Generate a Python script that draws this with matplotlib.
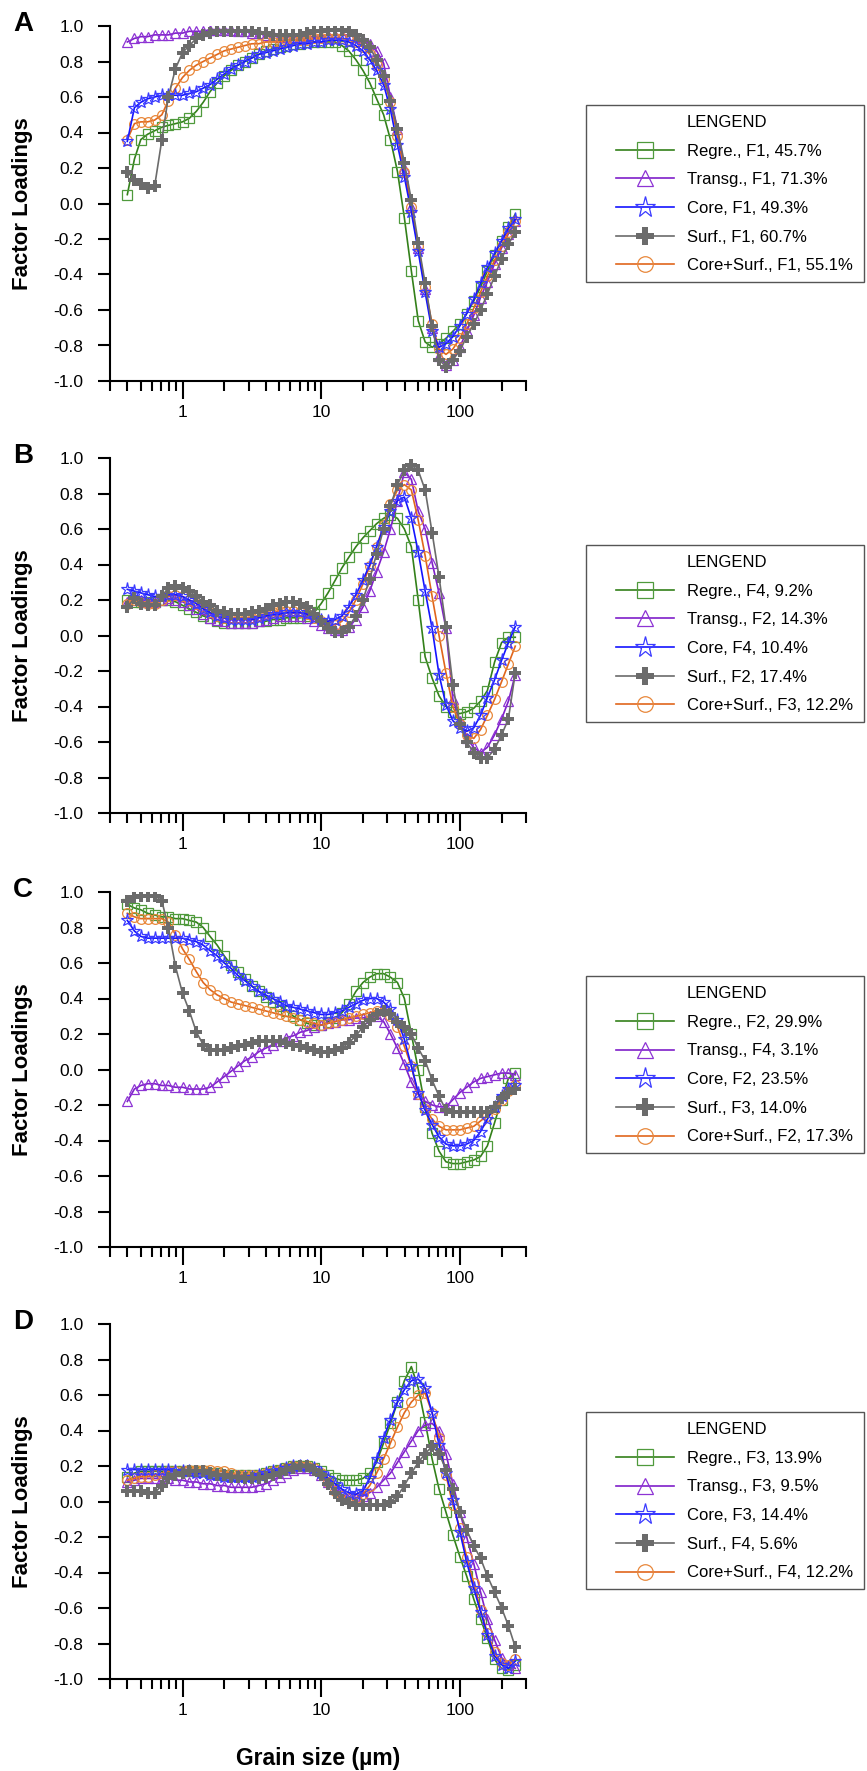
import numpy as np
import matplotlib.pyplot as plt
from matplotlib.lines import Line2D
from matplotlib.patches import Rectangle
from matplotlib.ticker import FixedLocator, FixedFormatter, NullFormatter

plt.rcParams['font.family'] = ['Liberation Sans', 'DejaVu Sans']
plt.rcParams['axes.unicode_minus'] = False

# grain size classes (um)
grain_size = [0.4, 0.45, 0.5, 0.56, 0.63, 0.71, 0.79, 0.89, 1.0, 1.12,
              1.26, 1.41, 1.58, 1.78, 2.0, 2.24, 2.51, 2.82, 3.16, 3.55,
              3.98, 4.47, 5.01, 5.62, 6.31, 7.08, 7.94, 8.91, 10, 11.2,
              12.6, 14.1, 15.8, 17.8, 20, 22.4, 25.1, 28.2, 31.6, 35.5,
              39.8, 44.7, 50.1, 56.2, 63.1, 70.8, 79.4, 89.1, 100, 112,
              126, 141, 158, 178, 200, 224, 251]

# ---- panel A ----
regre_a = [0.05, 0.25, 0.36, 0.39, 0.41, 0.43, 0.44, 0.45, 0.46, 0.48,
           0.52, 0.57, 0.63, 0.68, 0.72, 0.75, 0.78, 0.80, 0.82, 0.84,
           0.86, 0.87, 0.88, 0.89, 0.90, 0.90, 0.91, 0.91, 0.91, 0.91,
           0.91, 0.89, 0.86, 0.81, 0.75, 0.68, 0.59, 0.50, 0.36, 0.18,
           -0.08, -0.38, -0.66, -0.78, -0.81, -0.79, -0.76, -0.72, -0.68, -0.62,
           -0.55, -0.47, -0.38, -0.29, -0.21, -0.13, -0.06]
transg_a = [0.91, 0.93, 0.94, 0.94, 0.95, 0.95, 0.95, 0.96, 0.96, 0.97,
            0.97, 0.97, 0.98, 0.98, 0.98, 0.98, 0.97, 0.97, 0.96, 0.96,
            0.95, 0.95, 0.94, 0.94, 0.94, 0.94, 0.94, 0.94, 0.94, 0.95,
            0.95, 0.95, 0.95, 0.94, 0.92, 0.90, 0.86, 0.79, 0.60, 0.42,
            0.20, -0.02, -0.25, -0.48, -0.70, -0.86, -0.91, -0.88, -0.81, -0.72,
            -0.63, -0.53, -0.44, -0.34, -0.25, -0.17, -0.10]
core_a = [0.35, 0.54, 0.57, 0.59, 0.60, 0.61, 0.61, 0.61, 0.61, 0.62,
          0.63, 0.65, 0.67, 0.70, 0.73, 0.76, 0.78, 0.80, 0.82, 0.84,
          0.85, 0.86, 0.87, 0.88, 0.89, 0.90, 0.90, 0.91, 0.91, 0.92,
          0.92, 0.92, 0.91, 0.89, 0.86, 0.81, 0.75, 0.67, 0.53, 0.33,
          0.15, -0.05, -0.27, -0.50, -0.72, -0.81, -0.79, -0.75, -0.69, -0.62,
          -0.54, -0.45, -0.36, -0.28, -0.21, -0.14, -0.09]
surf_a = [0.18, 0.13, 0.11, 0.09, 0.10, 0.36, 0.60, 0.76, 0.85, 0.89,
          0.93, 0.95, 0.96, 0.97, 0.97, 0.97, 0.97, 0.97, 0.97, 0.96,
          0.96, 0.95, 0.95, 0.95, 0.95, 0.95, 0.96, 0.97, 0.97, 0.98,
          0.98, 0.98, 0.97, 0.95, 0.92, 0.88, 0.81, 0.72, 0.58, 0.42,
          0.23, 0.02, -0.22, -0.45, -0.69, -0.88, -0.92, -0.88, -0.83, -0.75,
          -0.68, -0.60, -0.51, -0.41, -0.31, -0.23, -0.16]
coresurf_a = [0.36, 0.45, 0.46, 0.46, 0.47, 0.50, 0.58, 0.65, 0.71, 0.75,
              0.78, 0.80, 0.82, 0.84, 0.86, 0.87, 0.88, 0.89, 0.90, 0.90,
              0.91, 0.91, 0.91, 0.92, 0.92, 0.92, 0.92, 0.93, 0.93, 0.93,
              0.93, 0.93, 0.92, 0.91, 0.88, 0.84, 0.78, 0.70, 0.57, 0.38,
              0.18, -0.02, -0.24, -0.47, -0.68, -0.82, -0.85, -0.82, -0.76, -0.68,
              -0.59, -0.50, -0.41, -0.32, -0.24, -0.16, -0.10]

# ---- panel B ----
regre_b = [0.20, 0.19, 0.19, 0.19, 0.19, 0.20, 0.20, 0.19, 0.17, 0.15,
           0.13, 0.11, 0.10, 0.08, 0.07, 0.07, 0.07, 0.07, 0.07, 0.08,
           0.08, 0.09, 0.09, 0.10, 0.10, 0.10, 0.11, 0.13, 0.18, 0.24,
           0.31, 0.38, 0.44, 0.50, 0.55, 0.59, 0.63, 0.66, 0.68, 0.66,
           0.60, 0.50, 0.20, -0.12, -0.24, -0.34, -0.40, -0.43, -0.44, -0.43,
           -0.41, -0.37, -0.31, -0.15, -0.04, -0.01, -0.01]
transg_b = [0.19, 0.20, 0.20, 0.19, 0.19, 0.20, 0.21, 0.20, 0.19, 0.17,
            0.15, 0.12, 0.10, 0.09, 0.08, 0.07, 0.07, 0.07, 0.07, 0.08,
            0.09, 0.10, 0.11, 0.11, 0.11, 0.11, 0.10, 0.08, 0.06, 0.04,
            0.03, 0.03, 0.05, 0.09, 0.16, 0.25, 0.36, 0.47, 0.60, 0.76,
            0.92, 0.88, 0.70, 0.60, 0.41, 0.24, 0.04, -0.36, -0.48, -0.58,
            -0.63, -0.66, -0.63, -0.56, -0.47, -0.37, -0.22]
core_b = [0.26, 0.25, 0.24, 0.23, 0.22, 0.22, 0.23, 0.23, 0.22, 0.20,
          0.18, 0.15, 0.13, 0.11, 0.10, 0.09, 0.09, 0.09, 0.09, 0.10,
          0.11, 0.12, 0.12, 0.13, 0.13, 0.13, 0.12, 0.10, 0.09, 0.08,
          0.09, 0.11, 0.16, 0.23, 0.31, 0.40, 0.50, 0.61, 0.70, 0.76,
          0.78, 0.66, 0.47, 0.25, 0.04, -0.22, -0.39, -0.48, -0.52, -0.54,
          -0.52, -0.45, -0.35, -0.25, -0.14, -0.04, 0.05]
surf_b = [0.16, 0.21, 0.18, 0.17, 0.17, 0.22, 0.27, 0.28, 0.27, 0.25,
          0.22, 0.19, 0.17, 0.14, 0.13, 0.12, 0.12, 0.12, 0.13, 0.14,
          0.15, 0.17, 0.18, 0.19, 0.19, 0.18, 0.16, 0.12, 0.08, 0.04,
          0.02, 0.02, 0.05, 0.11, 0.20, 0.32, 0.46, 0.60, 0.73, 0.85,
          0.93, 0.96, 0.93, 0.82, 0.58, 0.33, 0.05, -0.28, -0.50, -0.60,
          -0.66, -0.69, -0.69, -0.64, -0.56, -0.47, -0.21]
coresurf_b = [0.18, 0.20, 0.19, 0.18, 0.18, 0.20, 0.22, 0.23, 0.22, 0.20,
              0.18, 0.16, 0.13, 0.11, 0.10, 0.10, 0.10, 0.10, 0.10, 0.11,
              0.12, 0.13, 0.14, 0.14, 0.14, 0.13, 0.12, 0.10, 0.08, 0.06,
              0.06, 0.08, 0.13, 0.20, 0.29, 0.39, 0.50, 0.62, 0.74, 0.82,
              0.85, 0.82, 0.65, 0.45, 0.22, 0.00, -0.21, -0.40, -0.50, -0.56,
              -0.58, -0.53, -0.45, -0.36, -0.26, -0.16, -0.06]

# ---- panel C ----
regre_c = [0.93, 0.91, 0.90, 0.88, 0.87, 0.86, 0.86, 0.85, 0.85, 0.84,
           0.83, 0.80, 0.75, 0.70, 0.64, 0.59, 0.55, 0.51, 0.47, 0.44,
           0.41, 0.38, 0.36, 0.33, 0.30, 0.28, 0.26, 0.25, 0.25, 0.27,
           0.29, 0.32, 0.37, 0.44, 0.49, 0.52, 0.54, 0.54, 0.52, 0.49,
           0.40, 0.20, 0.00, -0.21, -0.36, -0.46, -0.52, -0.53, -0.53, -0.52,
           -0.51, -0.49, -0.43, -0.30, -0.17, -0.05, -0.02]
transg_c = [-0.18, -0.11, -0.09, -0.08, -0.08, -0.09, -0.09, -0.10, -0.10, -0.11,
            -0.11, -0.11, -0.10, -0.07, -0.04, -0.01, 0.02, 0.05, 0.07, 0.10,
            0.12, 0.14, 0.16, 0.18, 0.19, 0.21, 0.22, 0.24, 0.25, 0.26,
            0.27, 0.28, 0.28, 0.29, 0.29, 0.30, 0.30, 0.27, 0.20, 0.12,
            0.03, -0.07, -0.14, -0.18, -0.20, -0.21, -0.21, -0.17, -0.13, -0.10,
            -0.07, -0.05, -0.04, -0.03, -0.02, -0.02, -0.03]
core_c = [0.84, 0.78, 0.75, 0.74, 0.74, 0.74, 0.74, 0.74, 0.74, 0.73,
          0.72, 0.70, 0.67, 0.64, 0.60, 0.57, 0.53, 0.50, 0.47, 0.44,
          0.42, 0.40, 0.38, 0.36, 0.35, 0.34, 0.33, 0.32, 0.31, 0.31,
          0.32, 0.33, 0.35, 0.37, 0.39, 0.40, 0.40, 0.38, 0.34, 0.28,
          0.17, 0.02, -0.13, -0.23, -0.31, -0.38, -0.42, -0.43, -0.43, -0.42,
          -0.40, -0.35, -0.28, -0.21, -0.15, -0.11, -0.09]
surf_c = [0.95, 0.97, 0.98, 0.98, 0.98, 0.95, 0.80, 0.58, 0.43, 0.33,
          0.21, 0.14, 0.11, 0.11, 0.11, 0.12, 0.13, 0.14, 0.15, 0.16,
          0.16, 0.16, 0.16, 0.15, 0.14, 0.13, 0.12, 0.11, 0.10, 0.10,
          0.11, 0.12, 0.15, 0.19, 0.24, 0.28, 0.31, 0.33, 0.31, 0.27,
          0.24, 0.20, 0.12, 0.05, -0.06, -0.15, -0.23, -0.24, -0.24, -0.24,
          -0.24, -0.24, -0.24, -0.21, -0.16, -0.13, -0.11]
coresurf_c = [0.88, 0.86, 0.85, 0.85, 0.85, 0.85, 0.83, 0.76, 0.68, 0.62,
              0.55, 0.49, 0.45, 0.42, 0.40, 0.38, 0.37, 0.36, 0.35, 0.34,
              0.33, 0.32, 0.31, 0.30, 0.29, 0.28, 0.27, 0.26, 0.25, 0.26,
              0.27, 0.28, 0.29, 0.30, 0.31, 0.32, 0.33, 0.33, 0.30, 0.24,
              0.13, 0.02, -0.14, -0.22, -0.28, -0.32, -0.34, -0.34, -0.34, -0.33,
              -0.32, -0.29, -0.26, -0.22, -0.17, -0.12, -0.09]

# ---- panel D ----
regre_d = [0.14, 0.16, 0.17, 0.17, 0.17, 0.17, 0.17, 0.17, 0.17, 0.17,
           0.17, 0.17, 0.16, 0.16, 0.15, 0.15, 0.15, 0.15, 0.15, 0.15,
           0.16, 0.17, 0.18, 0.19, 0.20, 0.20, 0.20, 0.19, 0.17, 0.15,
           0.13, 0.12, 0.12, 0.12, 0.13, 0.16, 0.22, 0.33, 0.44, 0.56,
           0.68, 0.76, 0.64, 0.45, 0.24, 0.07, -0.06, -0.19, -0.31, -0.42,
           -0.55, -0.66, -0.77, -0.89, -0.94, -0.95, -0.92]
transg_d = [0.11, 0.12, 0.13, 0.13, 0.13, 0.13, 0.13, 0.12, 0.12, 0.11,
            0.11, 0.10, 0.10, 0.09, 0.09, 0.08, 0.08, 0.08, 0.08, 0.09,
            0.10, 0.12, 0.14, 0.16, 0.18, 0.19, 0.19, 0.18, 0.15, 0.11,
            0.07, 0.04, 0.02, 0.02, 0.03, 0.05, 0.08, 0.12, 0.16, 0.22,
            0.28, 0.34, 0.40, 0.43, 0.44, 0.40, 0.27, 0.10, -0.06, -0.20,
            -0.35, -0.51, -0.66, -0.78, -0.88, -0.92, -0.94]
core_d = [0.18, 0.18, 0.18, 0.18, 0.18, 0.18, 0.18, 0.17, 0.17, 0.17,
          0.16, 0.16, 0.15, 0.15, 0.14, 0.14, 0.14, 0.14, 0.14, 0.15,
          0.16, 0.17, 0.18, 0.19, 0.20, 0.20, 0.20, 0.19, 0.16, 0.13,
          0.10, 0.07, 0.05, 0.04, 0.06, 0.13, 0.24, 0.36, 0.46, 0.56,
          0.63, 0.68, 0.69, 0.64, 0.50, 0.32, 0.16, 0.01, -0.17, -0.34,
          -0.49, -0.62, -0.75, -0.87, -0.92, -0.94, -0.90]
surf_d = [0.06, 0.06, 0.06, 0.05, 0.05, 0.09, 0.13, 0.15, 0.16, 0.17,
          0.17, 0.17, 0.16, 0.15, 0.15, 0.14, 0.14, 0.13, 0.13, 0.13,
          0.14, 0.15, 0.16, 0.18, 0.19, 0.20, 0.20, 0.18, 0.15, 0.10,
          0.05, 0.01, -0.01, -0.02, -0.02, -0.02, -0.02, -0.02, 0.00, 0.03,
          0.09, 0.16, 0.22, 0.27, 0.31, 0.27, 0.18, 0.07, -0.06, -0.16,
          -0.25, -0.32, -0.42, -0.51, -0.60, -0.70, -0.82]
coresurf_d = [0.12, 0.13, 0.14, 0.14, 0.15, 0.16, 0.17, 0.17, 0.17, 0.18,
              0.18, 0.18, 0.18, 0.17, 0.17, 0.16, 0.15, 0.15, 0.15, 0.15,
              0.16, 0.17, 0.18, 0.19, 0.20, 0.20, 0.20, 0.19, 0.16, 0.11,
              0.06, 0.03, 0.02, 0.02, 0.04, 0.09, 0.16, 0.24, 0.33, 0.42,
              0.50, 0.56, 0.60, 0.61, 0.50, 0.36, 0.15, -0.02, -0.15, -0.31,
              -0.46, -0.61, -0.74, -0.85, -0.91, -0.92, -0.89]

labels_a = ['Regre., F1, 45.7%', 'Transg., F1, 71.3%', 'Core, F1, 49.3%',
            'Surf., F1, 60.7%', 'Core+Surf., F1, 55.1%']
labels_b = ['Regre., F4, 9.2%', 'Transg., F2, 14.3%', 'Core, F4, 10.4%',
            'Surf., F2, 17.4%', 'Core+Surf., F3, 12.2%']
labels_c = ['Regre., F2, 29.9%', 'Transg., F4, 3.1%', 'Core, F2, 23.5%',
            'Surf., F3, 14.0%', 'Core+Surf., F2, 17.3%']
labels_d = ['Regre., F3, 13.9%', 'Transg., F3, 9.5%', 'Core, F3, 14.4%',
            'Surf., F4, 5.6%', 'Core+Surf., F4, 12.2%']

panels = [
    ('A', [regre_a, transg_a, core_a, surf_a, coresurf_a], labels_a),
    ('B', [regre_b, transg_b, core_b, surf_b, coresurf_b], labels_b),
    ('C', [regre_c, transg_c, core_c, surf_c, coresurf_c], labels_c),
    ('D', [regre_d, transg_d, core_d, surf_d, coresurf_d], labels_d),
]

# line colour, marker, marker edge colour, marker size
styles = [
    ('#33801a', 's', '#4f9a3c', 7.0),
    ('#7f1fc9', '^', '#8d33d4', 7.5),
    ('#1414ff', '*', '#3a3aff', 9.5),
    ('#6b6b6b', 'P', '#6b6b6b', 8.0),
    ('#e0661c', 'o', '#e8873a', 7.0),
]
draw_order = [0, 1, 4, 2, 3]

W, H = 867, 1771
fig = plt.figure(figsize=(W / 100, H / 100), dpi=100)

ax_tops = [26, 458, 892, 1324]
box_tops = [105, 545, 976, 1412]
ax_h = 355
yt = [-1.0, -0.8, -0.6, -0.4, -0.2, 0.0, 0.2, 0.4, 0.6, 0.8, 1.0]
minor_x = [0.3, 0.4, 0.5, 0.6, 0.7, 0.8, 0.9, 2, 3, 4, 5, 6, 7, 8, 9,
           20, 30, 40, 50, 60, 70, 80, 90, 200, 300]

for (letter, series, labs), top, btop in zip(panels, ax_tops, box_tops):
    ax = fig.add_axes([110 / W, 1 - (top + ax_h) / H, 416 / W, ax_h / H])
    handles = [None] * 5
    for i in draw_order:
        lc, mk, mc, ms = styles[i]
        if mk == 'P':
            ln, = ax.plot(grain_size, series[i], color=lc, lw=1.2, marker=mk,
                          ms=ms, mfc=mc, mec=mc, mew=0)
        else:
            ln, = ax.plot(grain_size, series[i], color=lc, lw=1.2, marker=mk,
                          ms=ms, mfc='none', mec=mc, mew=0.9)
        handles[i] = ln
    ax.set_xscale('log')
    ax.set_xlim(0.3, 300)
    ax.set_ylim(-1.0, 1.0)
    ax.xaxis.set_major_locator(FixedLocator([1, 10, 100]))
    ax.xaxis.set_major_formatter(FixedFormatter(['1', '10', '100']))
    ax.xaxis.set_minor_locator(FixedLocator(minor_x))
    ax.xaxis.set_minor_formatter(NullFormatter())
    ax.set_yticks(yt)
    ax.set_yticklabels(['%.1f' % v for v in yt])
    for s in ['top', 'right']:
        ax.spines[s].set_visible(False)
    for s in ['left', 'bottom']:
        ax.spines[s].set_linewidth(1.5)
    ax.tick_params(axis='y', which='major', direction='out', length=9,
                   width=1.5, pad=10, labelsize=12.5)
    ax.tick_params(axis='x', which='major', direction='out', length=13,
                   width=1.5, pad=4, labelsize=12.5)
    ax.tick_params(axis='x', which='minor', direction='out', length=7,
                   width=1.5)

    fig.text(23 / W, 1 - (top + ax_h / 2) / H, 'Factor Loadings',
             rotation=90, ha='center', va='center', fontsize=16,
             fontweight='bold')
    fig.text(23 / W, 1 - (top - 2) / H, letter, ha='center', va='center',
             fontsize=20, fontweight='bold')

    # legend with frame drawn separately
    fig.add_artist(Rectangle((586 / W, 1 - (btop + 177) / H), 278 / W, 177 / H,
                             transform=fig.transFigure, fill=False,
                             edgecolor='#555555', lw=1.0))
    title_h = Line2D([], [], color='none')
    fig.legend([title_h] + handles, ['LENGEND'] + labs, loc='upper left',
               bbox_to_anchor=(616 / W, 1 - (btop + 10) / H), frameon=False,
               borderpad=0, borderaxespad=0, handlelength=3.5,
               handletextpad=0.75, labelspacing=0.82, fontsize=12,
               markerscale=1.6)

fig.text(318 / W, 1 - 1758 / H, 'Grain size (\u00b5m)', ha='center',
         va='center', fontsize=16.5, fontweight='bold')

fig.savefig('out.png', dpi=100)
